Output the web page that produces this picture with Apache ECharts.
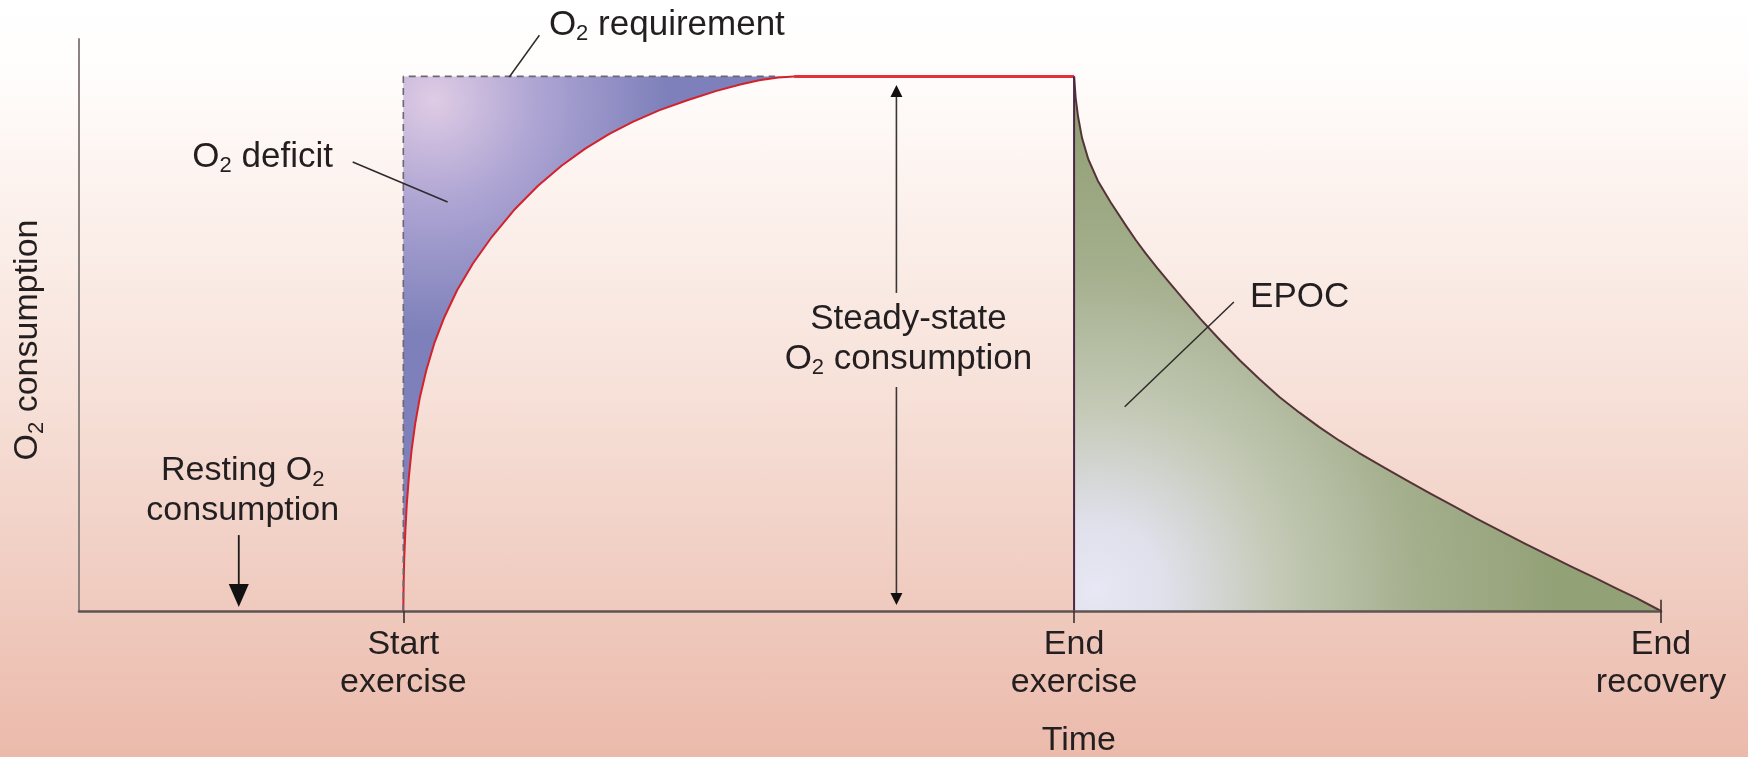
<!DOCTYPE html>
<html>
<head>
<meta charset="utf-8">
<script src="https://cdn.jsdelivr.net/npm/echarts@6/dist/echarts.min.js"></script>
<style>
html,body{margin:0;padding:0;}
#c{width:1748px;height:757px;background:linear-gradient(to bottom,#ffffff 0px,#fffdfc 70px,#fcf1ed 200px,#f7e2da 380px,#f1cfc4 560px,#ebbaab 757px);}
</style>
</head>
<body>
<div id="c"></div>
<script>
// ---- data (time in arbitrary units, O2 consumption in % of steady state) ----
const tickValues = [20.5, 62.9, 100];
const tickNames = ['Start\nexercise', 'End\nexercise', 'End\nrecovery'];

const riseX = [20.5, 20.52, 20.56, 20.63, 20.72, 20.85, 21.02, 21.25, 21.55, 21.95, 22.45, 23.1, 23.9, 24.9, 26.1, 27.5, 29.0, 30.5, 32.0, 33.5, 35.0, 36.7, 38.5, 40.3, 41.8, 43.0, 44.2, 45.2];
const riseY = [0, 5, 10, 15, 20, 25, 30, 35, 40, 45, 50, 55, 60, 65, 70, 75, 79.5, 83.3, 86.5, 89.2, 91.5, 93.7, 95.6, 97.3, 98.5, 99.3, 99.8, 100];

const plateauX = [45.2, 62.9];
const plateauY = [100, 100];

const requirementX = [20.5, 20.5, 44];
const requirementY = [0, 100, 100];

const decayX = [62.9, 63.0, 63.15, 63.4, 63.8, 64.4, 65.2, 66.2, 66.8, 67.4, 68.15, 68.9, 69.9, 70.9, 72.15, 73.4, 74.65, 75.9, 77.15, 78.4, 79.65, 80.9, 82.4, 83.9, 85.4, 86.9, 88.4, 89.9, 91.4, 92.9, 94.4, 95.9, 97.2, 98.4, 100];
const decayY = [100, 96, 92.5, 88.5, 84.5, 80.5, 76.5, 72, 69.4, 67, 64.2, 61.5, 58, 54.6, 50.6, 46.8, 43.3, 40, 37.1, 34.4, 31.9, 29.6, 27, 24.5, 22, 19.6, 17.2, 14.9, 12.6, 10.4, 8.2, 6.1, 4.2, 2.5, 0];

const endExerciseX = [62.9, 62.9];
const endExerciseY = [0, 100];

// ---- annotation placement (data coordinates) ----
const notes = [
  {text: 'O{s|2} requirement', at: [37.16, 109.6], size: 35},
  {text: 'O{s|2} deficit', at: [11.61, 84.9], size: 35},
  {text: 'Steady-state\nO{s|2} consumption', at: [52.43, 50.9], size: 35},
  {text: 'Resting O{s|2}\nconsumption', at: [10.35, 22.45], size: 34},
  {text: 'EPOC', at: [77.16, 58.7], size: 35},
  {text: 'Time', at: [63.2, -24.3], size: 34}
];
const leaders = [
  [[27.2, 99.9], [29.1, 107.7]],
  [[17.3, 84.0], [23.3, 76.5]],
  [[73.0, 57.8], [66.1, 38.2]],
  [[100, 0], [100, 2.1]]
];
const steadyArrow = {x: 51.67, topTip: 98.4, topEnd: 59.5, bottomStart: 41.9, bottomTip: 1.1};
const restArrow = {x: 10.1, from: 14.2, tip: 0.75};

const FONT = '"Liberation Sans", Arial, Helvetica, sans-serif';
const TXT = '#231f20';
const zip = (xs, ys) => xs.map((x, i) => [x, ys[i]]);

const chart = echarts.init(document.getElementById('c'), null, {renderer: 'canvas'});

const option = {
  animation: false,
  grid: {left: 76, right: 87, top: 39, bottom: 146},
  xAxis: {
    type: 'value', min: 0, max: 100, z: 10,
    axisLine: {show: true, onZero: false, lineStyle: {color: '#5f5453', width: 2.5}},
    splitLine: {show: false},
    axisTick: {show: true, customValues: tickValues, length: 12, lineStyle: {color: '#3a3030', width: 1.6}},
    axisLabel: {
      customValues: tickValues,
      formatter: function (v) {
        const i = tickValues.findIndex(t => Math.abs(t - v) < 1e-6);
        return i >= 0 ? tickNames[i] : '';
      },
      fontSize: 34, lineHeight: 38, color: TXT, fontFamily: FONT, margin: 15,
      showMinLabel: true, showMaxLabel: true, hideOverlap: false
    }
  },
  yAxis: {
    type: 'value', min: 0, max: 107, z: 10,
    axisLine: {show: true, onZero: false, lineStyle: {color: '#8c8381', width: 2}},
    axisTick: {show: false}, axisLabel: {show: false}, splitLine: {show: false},
    name: 'O{s|2} consumption', nameLocation: 'middle', nameGap: 31,
    nameTextStyle: {
      fontSize: 34, lineHeight: 40, color: TXT, fontFamily: FONT, padding: [0, 30, 0, 0],
      rich: {s: {fontSize: 22, fontFamily: FONT, color: TXT, verticalAlign: 'bottom'}}
    }
  },
  series: [
    {
      name: 'O2 consumption (rise)', type: 'line', data: zip(riseX, riseY),
      smooth: false, symbol: 'none', z: 2,
      lineStyle: {color: '#d2222e', width: 2, join: 'round'},
      areaStyle: {
        origin: 100, opacity: 1,
        color: {type: 'radial', x: 0.078, y: 0.044, r: 0.6, colorStops: [
          {offset: 0, color: '#dfcbe4'}, {offset: 0.45, color: '#ada4d3'}, {offset: 1, color: '#7d80ba'}]}
      }
    },
    {
      name: 'O2 requirement', type: 'line', data: zip(requirementX, requirementY),
      symbol: 'none', z: 3,
      lineStyle: {color: '#6d6775', width: 1.6, type: [7, 5]}
    },
    {
      name: 'Steady state', type: 'line', data: zip(plateauX, plateauY),
      symbol: 'none', z: 3,
      lineStyle: {color: '#e5303a', width: 3}
    },
    {
      name: 'EPOC', type: 'line', data: zip(decayX, decayY),
      smooth: false, symbol: 'none', z: 2,
      lineStyle: {color: '#553438', width: 2, join: 'round'},
      areaStyle: {
        origin: 'start', opacity: 1,
        color: {type: 'radial', x: 0.037, y: 0.96, r: 0.86, colorStops: [
          {offset: 0, color: '#e7e7f5'}, {offset: 0.15, color: '#dfe0ea'}, {offset: 0.4, color: '#c3c9b5'},
          {offset: 0.7, color: '#a4af8d'}, {offset: 1, color: '#93a177'}]}
      }
    },
    {
      name: 'End exercise', type: 'line', data: zip(endExerciseX, endExerciseY),
      symbol: 'none', z: 4,
      lineStyle: {color: '#4a2744', width: 2}
    }
  ]
};
chart.setOption(option);

function buildGraphic() {
  const P = p => chart.convertToPixel({gridIndex: 0}, p);
  const g = [];
  const lineEl = (a, b, w, c) => ({type: 'line', silent: true, z: 50,
    shape: {x1: a[0], y1: a[1], x2: b[0], y2: b[1]}, style: {stroke: c || '#2e2a2a', lineWidth: w || 1.5}});
  const tri = (tip, down, half, len) => ({type: 'polygon', silent: true, z: 51,
    shape: {points: [[tip[0], tip[1]], [tip[0] - half, tip[1] + (down ? -len : len)], [tip[0] + half, tip[1] + (down ? -len : len)]]},
    style: {fill: '#111111'}});

  leaders.forEach(l => g.push(lineEl(P(l[0]), P(l[1]), 1.5)));

  const sTop = P([steadyArrow.x, steadyArrow.topTip]);
  const sTopEnd = P([steadyArrow.x, steadyArrow.topEnd]);
  const sBotStart = P([steadyArrow.x, steadyArrow.bottomStart]);
  const sBot = P([steadyArrow.x, steadyArrow.bottomTip]);
  g.push(lineEl([sTop[0], sTop[1] + 8], sTopEnd, 1.6, '#3a3636'));
  g.push(lineEl(sBotStart, [sBot[0], sBot[1] - 8], 1.6, '#3a3636'));
  g.push(tri(sTop, false, 6, 12));
  g.push(tri(sBot, true, 6, 12));

  const rFrom = P([restArrow.x, restArrow.from]);
  const rTip = P([restArrow.x, restArrow.tip]);
  g.push(lineEl(rFrom, [rTip[0], rTip[1] - 15], 1.8, '#1a1a1a'));
  g.push(tri(rTip, true, 10, 23));

  notes.forEach(n => {
    const p = P(n.at);
    g.push({type: 'text', silent: true, z: 60, x: p[0], y: p[1],
      style: {text: n.text, fontSize: n.size, fontFamily: FONT, fill: TXT, lineHeight: 40,
        align: 'center', verticalAlign: 'middle', textAlign: 'center', textVerticalAlign: 'middle',
        rich: {s: {fontSize: 22, fontFamily: FONT, fill: TXT, verticalAlign: 'bottom'}}}});
  });
  return g;
}
chart.setOption({graphic: buildGraphic()});
</script>
</body>
</html>
